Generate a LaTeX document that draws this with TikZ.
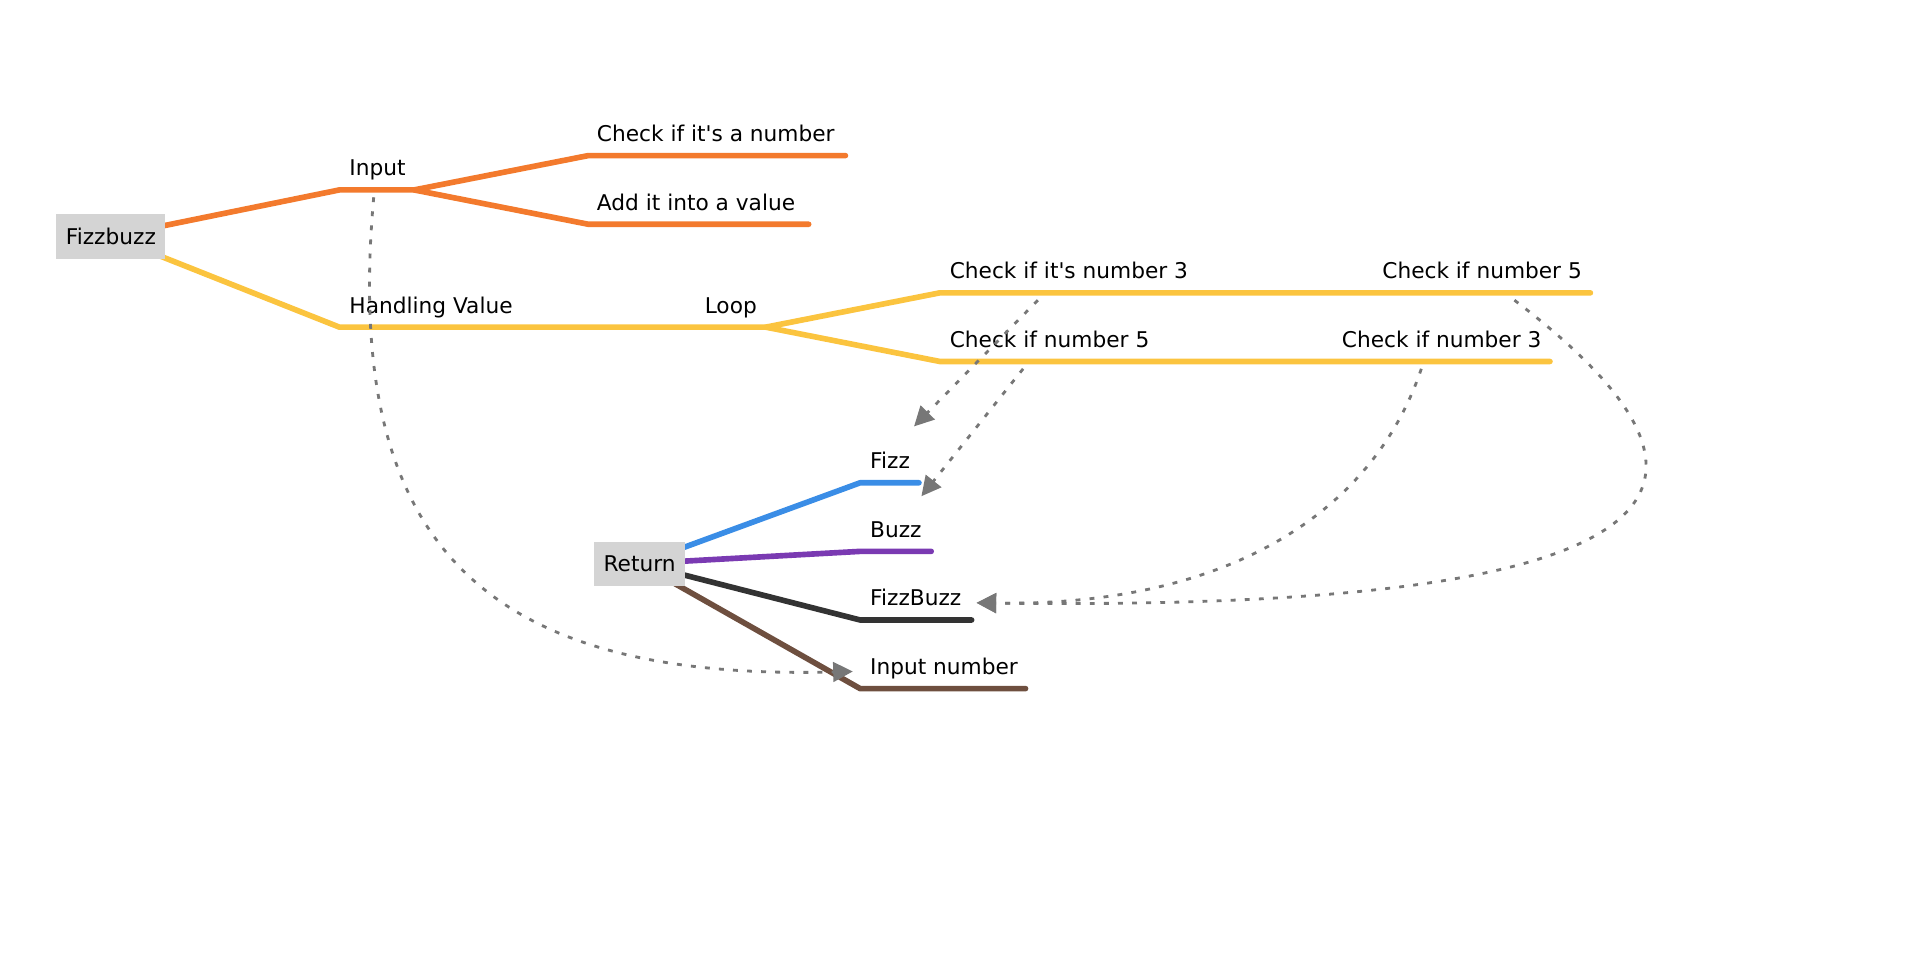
\documentclass[tikz,border=0pt]{standalone}
\usepackage{fontspec}
\setmainfont{DejaVu Sans}[Ligatures=TeXOff]
\usetikzlibrary{arrows.meta,backgrounds}
\definecolor{corange}{HTML}{F37A2D}
\definecolor{cyellow}{HTML}{FBC43F}
\definecolor{cblue}{HTML}{3A8DE6}
\definecolor{cpurple}{HTML}{7A3AB2}
\definecolor{cdark}{HTML}{333333}
\definecolor{cbrown}{HTML}{6E4F3F}
\definecolor{cgrayline}{HTML}{777777}
\definecolor{cbox}{HTML}{D4D4D4}
\tikzset{
  lbl/.style={anchor=base west, inner sep=0pt, font=\fontsize{17.7}{22}\selectfont},
  rootbox/.style={fill=cbox, inner sep=0pt, minimum height=36pt, font=\fontsize{17.7}{22}\selectfont},
  branch/.style={line width=4.6pt, line cap=round, line join=round},
  link/.style={draw=cgrayline, line width=2.3pt, dash pattern=on 4pt off 7.5pt,
    -{Triangle[length=16pt,width=16pt,fill=cgrayline]}},
}
\begin{document}
\begin{tikzpicture}[x=1pt,y=-1pt]
\useasboundingbox (0,0) rectangle (1567,796);
% root boxes
\node[rootbox, minimum width=89pt] (fb) at (90.5,193) {Fizzbuzz};
\node[rootbox, minimum width=74pt] (ret) at (522,460) {Return};
% bend coordinates
\coordinate (inA) at (277,155);
\coordinate (inB) at (338,155);
\coordinate (c1A) at (480,127);
\coordinate (c1B) at (690,127);
\coordinate (c2A) at (480,183);
\coordinate (c2B) at (660,183);
\coordinate (hvA) at (277,267);
\coordinate (lpB) at (625,267);
\coordinate (u3A) at (767,239);
\coordinate (u5B) at (1298,239);
\coordinate (l5A) at (767,295);
\coordinate (l3B) at (1265,295);
\coordinate (fzA) at (702,394);
\coordinate (fzB) at (750,394);
\coordinate (bzA) at (702,450);
\coordinate (bzB) at (760,450);
\coordinate (fbzA) at (702,506);
\coordinate (fbzB) at (793,506);
\coordinate (inpA) at (702,562);
\coordinate (inpB) at (837,562);
% labels
\node[lbl] (tInput) at (285,143.5) {Input};
\node[lbl] (tC1) at (487,115.5) {Check if it's a number};
\node[lbl] (tC2) at (487,171.5) {Add it into a value};
\node[lbl] (tHV) at (285,255.5) {Handling Value};
\node[lbl] (tLoop) at (575,255.5) {Loop};
\node[lbl] (tU3) at (775,227.5) {Check if it's number 3};
\node[lbl] (tU5) at (1128,227.5) {Check if number 5};
\node[lbl] (tL5) at (775,283.5) {Check if number 5};
\node[lbl] (tL3) at (1095,283.5) {Check if number 3};
\node[lbl] (tFizz) at (710,382.5) {Fizz};
\node[lbl] (tBuzz) at (710,438.5) {Buzz};
\node[lbl] (tFB) at (710,494.5) {FizzBuzz};
\node[lbl] (tIN) at (710,550.5) {Input number};
% branches
\begin{scope}[on background layer]
\draw[branch, corange] (fb.center) -- (inA) -- (inB) -- (c1A) -- (c1B);
\draw[branch, corange] (inB) -- (c2A) -- (c2B);
\draw[branch, cyellow] (fb.center) -- (hvA) -- (lpB) -- (u3A) -- (u5B);
\draw[branch, cyellow] (lpB) -- (l5A) -- (l3B);
\draw[branch, cblue] (ret.center) -- (fzA) -- (fzB);
\draw[branch, cpurple] (ret.center) -- (bzA) -- (bzB);
\draw[branch, cdark] (ret.center) -- (fbzA) -- (fbzB);
\draw[branch, cbrown] (ret.center) -- (inpA) -- (inpB);
\end{scope}
% cross links
\coordinate (sIn) at (305,161);
\coordinate (eIn) at (696,548);
\coordinate (sU3) at (847,245);
\coordinate (eU3) at (746,348);
\coordinate (sL5) at (835,301);
\coordinate (eL5) at (752,405);
\coordinate (sL3) at (1160,301);
\coordinate (sU5) at (1236,245);
\coordinate (eFB) at (797,492);
\draw[link] (sIn) .. controls (280,440) and (390,556) .. (eIn);
\draw[link] (sU3) -- (eU3);
\draw[link] (sL5) -- (eL5);
\draw[link] (sL3) .. controls (1120,420) and (1000,495) .. (eFB);
\draw[link] (sU5) .. controls (1420,385) and (1420,500) .. (eFB);
\end{tikzpicture}
\end{document}
